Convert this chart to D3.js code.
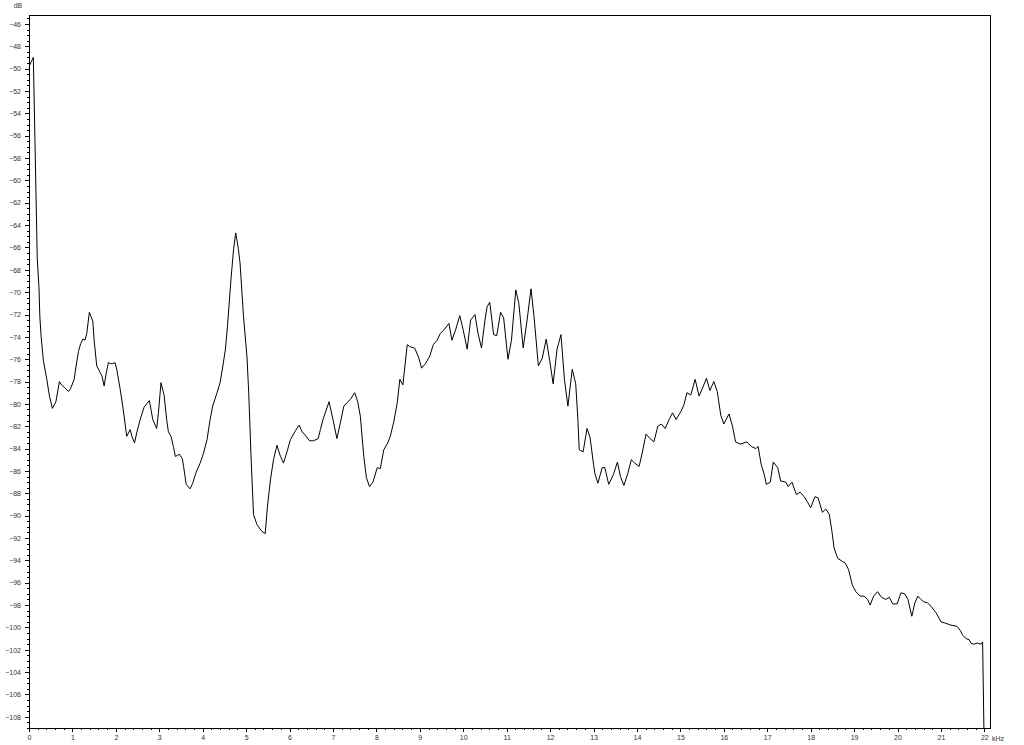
<!DOCTYPE html>
<html>
<head>
<meta charset="utf-8">
<script src="https://cdn.jsdelivr.net/npm/d3@7"></script>
<style>
  html, body { margin: 0; padding: 0; background: #fff; }
  svg text { font-family: "Liberation Sans", Arial, sans-serif; font-size: 7px; fill: #333; }
</style>
</head>
<body>
<div id="chart"></div>
<script>
// spectrum vertices: frequency (kHz) and level (dB)
var freqs = [
  0.00, 0.10, 0.19, 0.23, 0.25, 0.28, 0.33, 0.41, 0.47, 0.54, 0.62, 0.70, 0.75, 0.81, 0.91, 0.96,
  1.04, 1.08, 1.14, 1.19, 1.24, 1.29, 1.33, 1.39, 1.43, 1.47, 1.50, 1.56, 1.64, 1.68, 1.73, 1.78,
  1.83, 1.88, 1.93, 1.98, 2.02, 2.10, 2.17, 2.25, 2.33, 2.37, 2.43, 2.48, 2.56, 2.65, 2.71, 2.77,
  2.81, 2.85, 2.94, 2.98, 3.04, 3.11, 3.17, 3.21, 3.27, 3.33, 3.37, 3.42, 3.46, 3.53, 3.56, 3.62,
  3.71, 3.77, 3.84, 3.94, 4.02, 4.10, 4.17, 4.23, 4.33, 4.40, 4.46, 4.52, 4.57, 4.65, 4.71, 4.76,
  4.82, 4.86, 4.94, 5.02, 5.06, 5.11, 5.17, 5.25, 5.36, 5.44, 5.49, 5.56, 5.63, 5.71, 5.79, 5.86,
  5.94, 6.02, 6.12, 6.22, 6.29, 6.36, 6.46, 6.55, 6.66, 6.71, 6.77, 6.91, 7.00, 7.09, 7.17, 7.25,
  7.32, 7.40, 7.50, 7.57, 7.63, 7.71, 7.77, 7.84, 7.92, 8.02, 8.09, 8.17, 8.26, 8.32, 8.40, 8.48,
  8.54, 8.61, 8.71, 8.78, 8.88, 8.97, 9.04, 9.13, 9.23, 9.31, 9.40, 9.47, 9.55, 9.67, 9.74, 9.83,
  9.92, 10.00, 10.09, 10.17, 10.27, 10.34, 10.42, 10.50, 10.55, 10.61, 10.70, 10.77, 10.86, 10.93, 11.03, 11.11,
  11.21, 11.28, 11.38, 11.47, 11.56, 11.63, 11.73, 11.82, 11.91, 11.99, 12.07, 12.16, 12.25, 12.33, 12.41, 12.51,
  12.59, 12.64, 12.67, 12.76, 12.85, 12.92, 13.00, 13.03, 13.10, 13.20, 13.26, 13.35, 13.46, 13.55, 13.62, 13.70,
  13.79, 13.87, 13.95, 14.05, 14.12, 14.21, 14.30, 14.39, 14.48, 14.56, 14.65, 14.74, 14.82, 14.90, 15.01, 15.08,
  15.15, 15.24, 15.34, 15.43, 15.53, 15.60, 15.68, 15.77, 15.85, 15.93, 16.00, 16.12, 16.20, 16.27, 16.38, 16.53,
  16.63, 16.74, 16.79, 16.86, 16.93, 16.98, 17.07, 17.14, 17.24, 17.31, 17.43, 17.48, 17.57, 17.67, 17.76, 17.85,
  17.93, 18.00, 18.10, 18.17, 18.27, 18.35, 18.43, 18.49, 18.54, 18.62, 18.73, 18.79, 18.87, 18.96, 19.04, 19.14,
  19.23, 19.31, 19.37, 19.45, 19.54, 19.63, 19.73, 19.81, 19.89, 19.99, 20.08, 20.17, 20.24, 20.33, 20.40, 20.47,
  20.54, 20.60, 20.69, 20.77, 20.89, 20.96, 21.00, 21.09, 21.23, 21.37, 21.45, 21.50, 21.58, 21.65, 21.69, 21.75,
  21.85, 21.92, 21.96, 21.99
];
var levels = [
  -49.8, -49.0, -67.0, -69.6, -72.2, -74.0, -76.1, -77.8, -79.3, -80.4, -79.8, -78.0, -78.3, -78.5, -78.9, -78.6,
  -77.8, -76.7, -75.3, -74.6, -74.2, -74.3, -73.7, -71.8, -72.2, -72.6, -74.3, -76.6, -77.2, -77.5, -78.4, -77.2,
  -76.3, -76.4, -76.4, -76.3, -76.9, -78.7, -80.5, -82.9, -82.3, -82.9, -83.5, -82.6, -81.4, -80.3, -80.0, -79.7,
  -80.5, -81.4, -82.2, -80.8, -78.1, -79.2, -81.4, -82.5, -82.9, -83.9, -84.7, -84.6, -84.5, -84.9, -85.6, -87.2,
  -87.6, -87.1, -86.2, -85.3, -84.4, -83.2, -81.4, -80.2, -79.0, -78.1, -76.7, -75.2, -73.1, -68.9, -66.2, -64.7,
  -66.1, -67.4, -72.2, -75.8, -79.0, -84.4, -89.9, -90.8, -91.4, -91.6, -89.2, -86.8, -85.0, -83.7, -84.7, -85.3,
  -84.3, -83.2, -82.5, -81.9, -82.5, -82.8, -83.3, -83.3, -83.1, -82.3, -81.4, -79.8, -81.4, -83.1, -81.7, -80.2,
  -79.9, -79.6, -79.0, -79.8, -81.1, -84.7, -86.6, -87.4, -87.0, -85.7, -85.8, -84.1, -83.5, -82.9, -81.6, -79.9,
  -77.8, -78.3, -74.7, -74.9, -75.0, -75.8, -76.8, -76.4, -75.7, -74.7, -74.3, -73.7, -73.4, -72.8, -74.3, -73.3,
  -72.1, -73.4, -75.1, -72.5, -72.0, -73.7, -75.0, -72.5, -71.3, -70.9, -73.8, -73.9, -71.8, -72.3, -76.0, -74.3,
  -69.8, -71.0, -75.0, -72.5, -69.7, -72.2, -76.6, -75.9, -74.2, -76.1, -78.2, -75.1, -73.8, -77.8, -80.2, -76.9,
  -78.2, -81.4, -84.1, -84.3, -82.2, -83.0, -85.4, -86.2, -87.1, -85.7, -85.7, -87.2, -86.3, -85.2, -86.5, -87.3,
  -86.2, -85.0, -85.3, -85.6, -84.4, -82.7, -83.1, -83.4, -82.0, -81.8, -82.2, -81.4, -80.8, -81.4, -80.7, -80.1,
  -79.0, -79.2, -77.8, -79.3, -78.4, -77.7, -78.8, -78.0, -78.9, -81.0, -81.8, -80.9, -82.0, -83.4, -83.6, -83.4,
  -83.8, -84.0, -83.8, -85.4, -86.3, -87.2, -87.0, -85.2, -85.7, -86.9, -87.0, -87.4, -87.0, -88.1, -87.9, -88.3,
  -88.8, -89.3, -88.3, -88.4, -89.7, -89.4, -89.9, -91.4, -92.9, -93.8, -94.1, -94.2, -94.8, -96.2, -96.8, -97.2,
  -97.2, -97.5, -98.0, -97.2, -96.8, -97.3, -97.5, -97.3, -97.9, -97.9, -96.9, -97.0, -97.5, -99.0, -97.8, -97.2,
  -97.5, -97.7, -97.8, -98.1, -98.7, -99.2, -99.5, -99.6, -99.8, -99.9, -100.3, -100.7, -101.0, -101.1, -101.4, -101.5,
  -101.4, -101.5, -101.3, -109.0
];
var yMajorTicks = d3.range(-108, -45, 2);
var xMajorTicks = d3.range(0, 23, 1);

var width = 1024, height = 745;
var margin = { left: 29, top: 15, right: 34, bottom: 17 };

var svg = d3.select("#chart")
  .append("svg")
  .attr("width", width)
  .attr("height", height);

var x = d3.scaleLinear()
  .domain([0, 22.13])
  .range([margin.left, width - margin.right]);
var y = d3.scaleLinear()
  .domain([-109, -45.2])
  .range([height - margin.bottom, margin.top]);

var points = freqs.map(function(f, i) { return [f, levels[i]]; });

// minor ticks every 0.5 dB and 0.2 kHz
var yMinor = d3.range(-109, -45.2, 0.5).filter(function(v) { return Math.abs(v % 2) > 0.01; });
var xMinor = d3.range(0, 22.13, 0.2).filter(function(v) { return Math.abs(v - Math.round(v)) > 0.01; });

var yAxis = d3.axisLeft(y)
  .tickValues(yMajorTicks)
  .tickSize(4)
  .tickPadding(4)
  .tickFormat(d3.format("d"));
var yAxisMinor = d3.axisLeft(y).tickValues(yMinor).tickSize(2).tickFormat("");
var xAxis = d3.axisBottom(x)
  .tickValues(xMajorTicks)
  .tickSize(4)
  .tickPadding(3)
  .tickFormat(d3.format("d"));
var xAxisMinor = d3.axisBottom(x).tickValues(xMinor).tickSize(2).tickFormat("");

function styleAxis(g) {
  g.select(".domain").remove();
  g.selectAll("line").attr("stroke", "#000").attr("shape-rendering", "crispEdges");
  g.selectAll("text").attr("font-size", null).attr("font-family", null).attr("fill", "#333");
}

svg.append("g")
  .attr("transform", "translate(" + margin.left + ",0)")
  .call(yAxisMinor).call(styleAxis);
svg.append("g")
  .attr("transform", "translate(" + margin.left + ",0)")
  .call(yAxis).call(styleAxis);
svg.append("g")
  .attr("transform", "translate(0," + (height - margin.bottom) + ")")
  .call(xAxisMinor).call(styleAxis);
svg.append("g")
  .attr("transform", "translate(0," + (height - margin.bottom) + ")")
  .call(xAxis).call(styleAxis);

// frame
svg.append("rect")
  .attr("x", margin.left + 0.5)
  .attr("y", margin.top + 0.5)
  .attr("width", width - margin.left - margin.right)
  .attr("height", height - margin.top - margin.bottom)
  .attr("fill", "none")
  .attr("stroke", "#000")
  .attr("shape-rendering", "crispEdges");

// unit labels
svg.append("text")
  .attr("x", 18)
  .attr("y", 8)
  .attr("text-anchor", "middle")
  .text("dB");
svg.append("text")
  .attr("x", 992)
  .attr("y", height - margin.bottom + 13)
  .text("kHz");

var line = d3.line()
  .x(function(d) { return x(d[0]); })
  .y(function(d) { return y(d[1]); });

svg.append("path")
  .datum(points)
  .attr("d", line)
  .attr("fill", "none")
  .attr("stroke", "#000")
  .attr("stroke-width", 1);
</script>
</body>
</html>
